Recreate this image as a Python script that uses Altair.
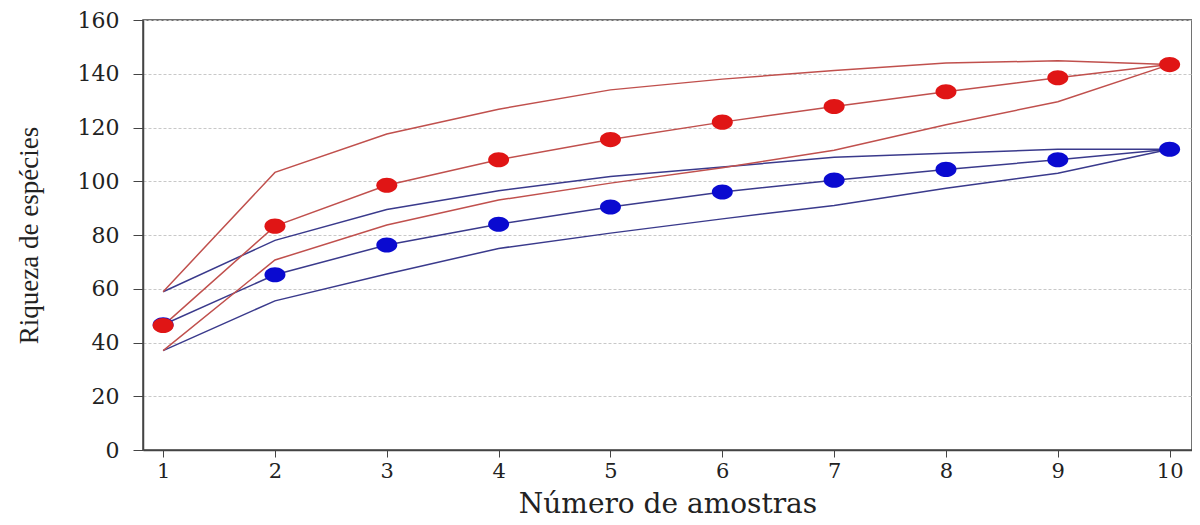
import altair as alt
import pandas as pd

amostras = [1, 2, 3, 4, 5, 6, 7, 8, 9, 10]

red_mean = [46.3, 83.3, 98.5, 108, 115.5, 122, 127.8, 133.3, 138.5, 143.4]
red_upper = [58.9, 103.3, 117.6, 126.8, 134, 138, 141.2, 144, 144.8, 143.4]
red_lower = [37, 70.7, 83.7, 93, 99.3, 105, 111.5, 121, 129.6, 143.4]

blue_mean = [46.6, 65.2, 76.3, 84, 90.4, 96, 100.4, 104.4, 108, 111.9]
blue_upper = [58.9, 78, 89.5, 96.5, 101.8, 105.3, 108.9, 110.4, 111.9, 111.9]
blue_lower = [37, 55.5, 65.5, 75, 80.7, 86, 91, 97.4, 103, 111.9]

y_ticks = [0, 20, 40, 60, 80, 100, 120, 140, 160]

series = {
    "blue_upper": blue_upper,
    "blue_lower": blue_lower,
    "blue_mean": blue_mean,
    "red_upper": red_upper,
    "red_lower": red_lower,
    "red_mean": red_mean,
}

rows = []
for name, vals in series.items():
    for xv, yv in zip(amostras, vals):
        rows.append({"x": xv, "y": yv, "serie": name, "grupo": name.split("_")[0]})
df = pd.DataFrame(rows)

x_enc = alt.X(
    "x:Q",
    scale=alt.Scale(domain=[0.82, 10.2], nice=False, zero=False),
    axis=alt.Axis(
        values=amostras,
        format="d",
        title="Número de amostras",
        grid=False,
        tickSize=7,
        tickColor="#444",
        domainColor="#444",
        domainWidth=1.5,
        labelFont="DejaVu Serif",
        labelFontSize=21,
        labelColor="#222",
        labelPadding=3,
        labelFlush=False,
        labelOverlap=False,
        titleFont="DejaVu Serif",
        titleFontSize=28,
        titleFontWeight="normal",
        titleColor="#222",
        titlePadding=9,
    ),
)
y_enc = alt.Y(
    "y:Q",
    scale=alt.Scale(domain=[0, 160], nice=False),
    axis=alt.Axis(
        values=y_ticks,
        format="d",
        title="Riqueza de espécies",
        grid=True,
        gridColor="#c8c8c8",
        gridDash=[3, 2],
        gridWidth=1,
        tickSize=10,
        tickColor="#444",
        domainColor="#444",
        domainWidth=1.5,
        labelFont="DejaVu Serif",
        labelFontSize=22,
        labelColor="#222",
        labelPadding=14,
        labelFlush=False,
        titleFont="Liberation Serif",
        titleFontSize=27,
        titleFontWeight="normal",
        titleColor="#222",
        titlePadding=34,
    ),
)

line_colors = alt.Scale(
    domain=["blue_upper", "blue_lower", "blue_mean", "red_upper", "red_lower", "red_mean"],
    range=["#3a3a8c", "#3a3a8c", "#3a3a8c", "#c0504d", "#c0504d", "#c0504d"],
)

lines = alt.Chart(df).mark_line(strokeWidth=1.5).encode(
    x=x_enc,
    y=y_enc,
    color=alt.Color("serie:N", scale=line_colors, legend=None),
    detail="serie:N",
)

ellipse = "M-1,0 A1,0.72 0 1,0 1,0 A1,0.72 0 1,0 -1,0 Z"

pts = alt.Chart(df[df["serie"].str.endswith("mean")]).mark_point(
    filled=True, size=440, opacity=1, shape=ellipse
).encode(
    x="x:Q",
    y="y:Q",
    color=alt.Color(
        "grupo:N",
        scale=alt.Scale(domain=["blue", "red"], range=["#0a0ad0", "#e01515"]),
        legend=None,
    ),
    order=alt.Order("grupo:N"),
)

chart = (
    alt.layer(lines, pts)
    .resolve_scale(color="independent")
    .properties(
        width=1049,
        height=430,
        autosize=alt.AutoSizeParams(type="none"),
        padding={"left": 135, "top": 12, "right": 0, "bottom": 75},
        background="white",
    )
    .configure_view(stroke="#444", strokeWidth=1.5)
)

chart.save("out.html", embed_options={"renderer": "svg", "actions": False})
